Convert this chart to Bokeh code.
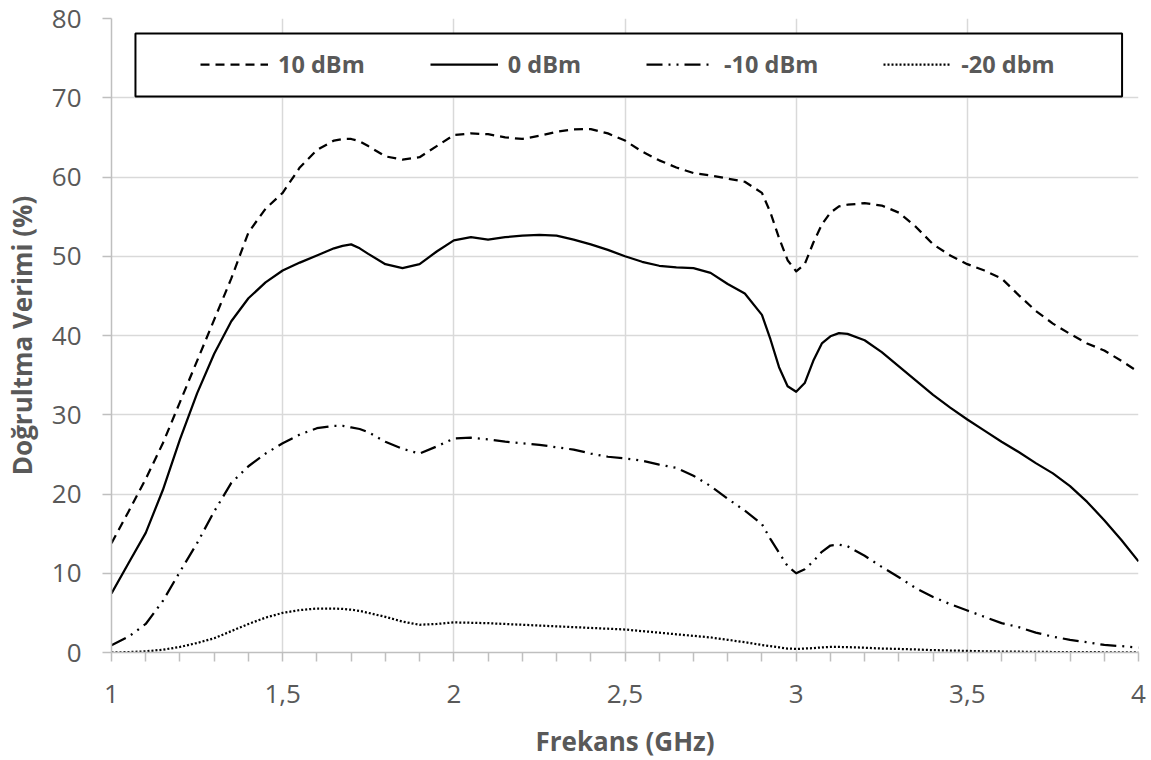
from bokeh.plotting import figure
from bokeh.models import (Range1d, FixedTicker, Legend, LegendItem, BoxAnnotation)
from bokeh.embed import file_html
from bokeh.resources import INLINE

# ---------------- data ----------------
freq = [1.00, 1.05, 1.10, 1.15, 1.20, 1.25, 1.30, 1.35, 1.40, 1.45,
        1.50, 1.55, 1.60, 1.65, 1.675, 1.70, 1.725, 1.75, 1.80, 1.85, 1.90, 1.95,
        2.00, 2.05, 2.10, 2.15, 2.20, 2.25, 2.30, 2.35, 2.40, 2.45,
        2.50, 2.55, 2.60, 2.65, 2.70, 2.75, 2.80, 2.85, 2.90, 2.925, 2.95, 2.975,
        3.00, 3.025, 3.05, 3.075, 3.10, 3.125, 3.15, 3.20, 3.25, 3.30, 3.35, 3.40, 3.45,
        3.50, 3.55, 3.60, 3.65, 3.70, 3.75, 3.80, 3.85, 3.90, 3.95,
        4.00]

eff_p10 = [13.8, 17.8, 21.9, 26.4, 31.6, 36.8, 42.0, 47.2, 53.0, 56.0,
           58.0, 61.2, 63.4, 64.6, 64.8, 64.8, 64.5, 63.9, 62.6, 62.2, 62.5, 63.9,
           65.3, 65.5, 65.4, 65.0, 64.8, 65.2, 65.7, 66.0, 66.05, 65.5,
           64.6, 63.2, 62.1, 61.2, 60.5, 60.2, 59.8, 59.4, 58.0, 55.5, 52.3, 49.5,
           48.1, 49.0, 51.7, 54.0, 55.5, 56.3, 56.5, 56.7, 56.4, 55.5, 53.7, 51.5, 50.1,
           49.0, 48.2, 47.2, 45.1, 43.1, 41.5, 40.2, 39.0, 38.1, 36.8,
           35.4]

eff_0 = [7.45, 11.3, 15.1, 20.5, 26.9, 32.7, 37.7, 41.8, 44.7, 46.7,
         48.2, 49.2, 50.1, 51.0, 51.3, 51.5, 51.0, 50.3, 49.0, 48.5, 49.0, 50.6,
         52.0, 52.4, 52.1, 52.4, 52.6, 52.7, 52.6, 52.1, 51.5, 50.8,
         50.0, 49.3, 48.8, 48.6, 48.5, 47.9, 46.5, 45.3, 42.6, 39.5, 36.0, 33.6,
         32.9, 34.0, 36.8, 39.0, 39.9, 40.3, 40.2, 39.4, 37.9, 36.1, 34.3, 32.5, 30.9,
         29.4, 28.0, 26.6, 25.3, 23.9, 22.6, 21.0, 19.0, 16.7, 14.2,
         11.5]

eff_m10 = [0.9, 2.0, 3.6, 6.5, 10.2, 13.8, 17.8, 21.4, 23.5, 25.1,
           26.4, 27.5, 28.3, 28.6, 28.6, 28.4, 28.2, 27.8, 26.6, 25.7, 25.1, 26.0,
           27.0, 27.1, 26.9, 26.6, 26.4, 26.2, 25.9, 25.6, 25.1, 24.7,
           24.5, 24.2, 23.7, 23.3, 22.3, 21.0, 19.4, 17.9, 16.2, 14.3, 12.6, 10.9,
           10.0, 10.5, 11.5, 12.7, 13.5, 13.6, 13.4, 12.2, 10.8, 9.5, 8.1, 7.0, 6.1,
           5.3, 4.5, 3.7, 3.2, 2.5, 2.0, 1.6, 1.3, 0.95, 0.8,
           0.6]

eff_m20 = [0.0, 0.05, 0.15, 0.35, 0.7, 1.2, 1.8, 2.7, 3.6, 4.4,
           5.0, 5.35, 5.55, 5.55, 5.5, 5.4, 5.25, 5.0, 4.5, 3.9, 3.5, 3.6,
           3.8, 3.75, 3.7, 3.6, 3.5, 3.4, 3.3, 3.2, 3.1, 3.0,
           2.9, 2.7, 2.5, 2.3, 2.1, 1.9, 1.6, 1.3, 0.95, 0.8, 0.65, 0.5,
           0.45, 0.5, 0.55, 0.65, 0.7, 0.7, 0.68, 0.6, 0.5, 0.45, 0.38, 0.3, 0.25,
           0.2, 0.15, 0.12, 0.1, 0.08, 0.06, 0.05, 0.04, 0.03, 0.02,
           0.0]

series_names = ["10 dBm", "0 dBm", "-10 dBm", "-20 dbm"]

x_ticks = [1.0, 1.5, 2.0, 2.5, 3.0, 3.5, 4.0]
x_tick_labels = ["1", "1,5", "2", "2,5", "3", "3,5", "4"]
x_minor_ticks = [1.1, 1.2, 1.3, 1.4, 1.6, 1.7, 1.8, 1.9, 2.1, 2.2, 2.3, 2.4,
                 2.6, 2.7, 2.8, 2.9, 3.1, 3.2, 3.3, 3.4, 3.6, 3.7, 3.8, 3.9]
y_ticks = [0, 10, 20, 30, 40, 50, 60, 70, 80]

x_title = "Frekans (GHz)"
y_title = "Doğrultma Verimi (%)"

# ---------------- figure ----------------
FONT = "Open Sans"
TXT = "#595959"
GRID = "#d9d9d9"
AXIS = "#bfbfbf"

p = figure(frame_width=1027, frame_height=634,
           x_range=Range1d(1, 4), y_range=Range1d(0, 80),
           output_backend="svg", toolbar_location=None,
           min_border_left=108, min_border_right=12,
           min_border_top=18, min_border_bottom=10)
p.outline_line_color = None
p.background_fill_color = "white"
p.border_fill_color = "white"

xa = p.xaxis[0]
xa.ticker = FixedTicker(ticks=x_ticks, minor_ticks=x_minor_ticks)
xa.major_label_overrides = {t: l for t, l in zip(x_ticks, x_tick_labels)}
ya = p.yaxis[0]
ya.ticker = FixedTicker(ticks=y_ticks)

for ax in (xa, ya):
    ax.axis_line_color = AXIS
    ax.axis_line_width = 1.5
    ax.major_tick_line_color = AXIS
    ax.major_tick_line_width = 1.5
    ax.minor_tick_line_color = AXIS
    ax.minor_tick_line_width = 1.5
    ax.major_tick_in = 0
    ax.major_tick_out = 9
    ax.minor_tick_in = 0
    ax.minor_tick_out = 9
    ax.major_label_text_font = FONT
    ax.major_label_text_font_size = "26px"
    ax.major_label_text_color = TXT
    ax.axis_label_text_font = FONT
    ax.axis_label_text_font_size = "26px"
    ax.axis_label_text_font_style = "bold"
    ax.axis_label_text_color = TXT
ya.minor_tick_line_color = None

xa.axis_label = x_title
ya.axis_label = y_title
xa.major_label_standoff = 23
ya.major_label_standoff = 21
xa.axis_label_standoff = 17
ya.axis_label_standoff = 9

p.xgrid.grid_line_color = GRID
p.xgrid.grid_line_width = 1.5
p.ygrid.grid_line_color = GRID
p.ygrid.grid_line_width = 1.5

styles = [
    dict(line_dash="9 6"),
    dict(line_dash="solid"),
    dict(line_dash="16 6 2 6 2 6"),
    dict(line_dash="2 2"),
]
data = [eff_p10, eff_0, eff_m10, eff_m20]
items = []
for name, ys, st in zip(series_names, data, styles):
    r = p.line(freq, ys, line_color="black", line_width=2.25,
               line_join="round", **st)
    items.append(LegendItem(label=name, renderers=[r]))

box = BoxAnnotation(left=1.070, right=3.952, top=78.1, bottom=70.15,
                    fill_color="white", fill_alpha=1.0,
                    line_color="black", line_alpha=1.0, line_width=2)
p.add_layout(box)

legend = Legend(items=items, orientation="horizontal",
                location=(89, 572), padding=0, margin=0, spacing=65,
                glyph_width=68, glyph_height=30, label_height=30,
                label_standoff=10, border_line_color=None,
                background_fill_alpha=0,
                label_text_font=FONT, label_text_font_size="23.5px",
                label_text_font_style="bold", label_text_color=TXT)
p.add_layout(legend)

open("out.html", "w").write(file_html(p, INLINE))
